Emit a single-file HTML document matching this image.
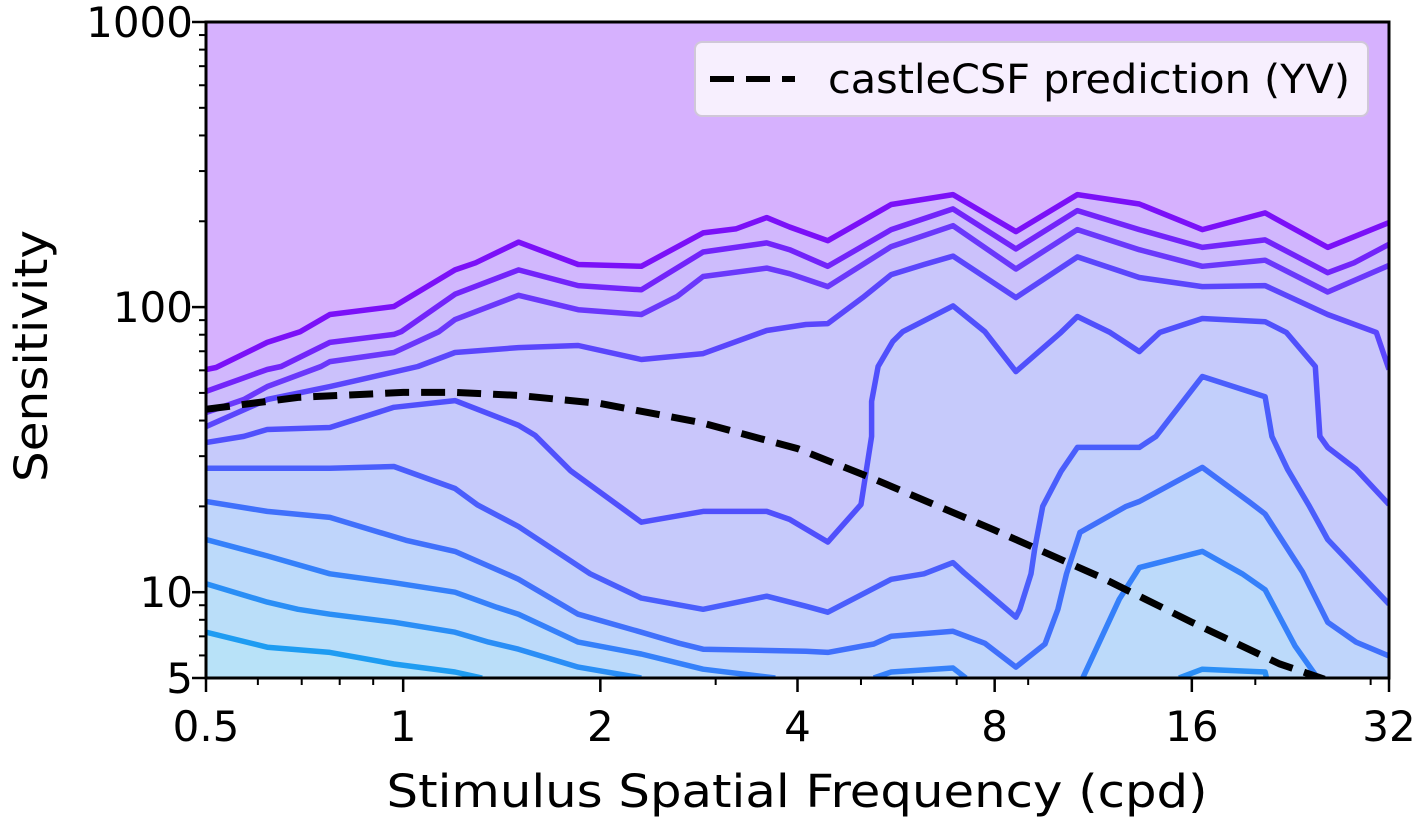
<!DOCTYPE html>
<html><head><meta charset="utf-8"><style>
html,body{margin:0;padding:0;background:#fff;}
svg{display:block;font-family:"DejaVu Sans","Liberation Sans",sans-serif;}
</style></head><body>
<svg id="chart" width="1422" height="821" viewBox="0 0 1422 821" xmlns="http://www.w3.org/2000/svg">
<defs><clipPath id="plotclip"><rect x="206" y="22" width="1183" height="656"/></clipPath></defs>
<g id="plot" clip-path="url(#plotclip)"></g>
<g id="axes"></g>
<g>
<rect x="695" y="42" width="673" height="74" rx="7" fill="#f7effe" stroke="#d0c8d8" stroke-width="2"/>
<line x1="710" y1="79" x2="795" y2="79" stroke="#000" stroke-width="6" stroke-dasharray="24 12"/>
<text x="828" y="93" font-size="40" textLength="522" lengthAdjust="spacingAndGlyphs" fill="#000">castleCSF prediction (YV)</text>
</g>
<text x="797" y="807" font-size="45" text-anchor="middle" textLength="821" lengthAdjust="spacingAndGlyphs" fill="#000">Stimulus Spatial Frequency (cpd)</text>
<text transform="translate(47,356) rotate(-90)" font-size="45" text-anchor="middle" textLength="252" lengthAdjust="spacingAndGlyphs" fill="#000">Sensitivity</text>
</svg>
<script>
const L1x=[0.5,0.518,0.62,0.696,0.773,0.968,1.2,1.29,1.5,1.85,2.31,2.87,3.22,3.59,3.89,4.45,5.56,6.91,8.62,10.7,13.3,16.6,20.7,25.8,32];
const L1y=[60.4,61.4,75.2,82,94.2,100.5,135,143,169,141,139,182,188,206,191,171,229,248,184,248,230,187,214,162,198];
const L2x=[0.5,0.62,0.651,0.773,0.968,0.993,1.2,1.5,1.85,2.31,2.87,3.59,3.89,4.45,5.56,6.91,8.62,10.7,13.3,16.6,20.7,25.8,28.3,32];
const L2y=[50.6,60.4,61.9,75.2,80.2,82,111,135,119,115,156,168,159,139,187,221,160,218,187,162,172,132,143,166];
const L3x=[0.5,0.571,0.62,0.749,0.773,0.968,1.134,1.2,1.5,1.85,2.31,2.62,2.87,3.59,3.89,4.45,5.56,6.91,8.62,10.7,13.3,16.6,20.7,25.8,32];
const L3y=[42.7,47.4,52.6,61.9,64.4,69.3,82,90.4,110,97.9,94.2,109,128,137,131,118,163,193,136,187,159,139,146,113,140];
const L4x=[0.5,0.62,0.773,1.053,1.2,1.5,1.85,2.31,2.87,3.59,4.12,4.45,5.03,5.56,6.24,6.91,8.62,10.7,13.3,16.6,20.7,25.8,30.6,32];
const L4y=[38.1,47.4,52.6,61.9,69.3,72.1,73.3,65.5,68.7,82.8,86.9,87.5,108,130,141,151,108,150,127,118,119,94.2,81.5,60.4];
const L5x=[0.5,0.571,0.62,0.773,0.968,1.2,1.5,1.59,1.8,2.31,2.87,3.59,3.89,4.45,5.0,5.19,5.19,5.31,5.59,5.79,6.91,7.73,8.62,10.1,10.7,12.0,13.3,14.3,16.6,20.7,22.3,24.7,25.1,25.8,28.5,32];
const L5y=[33.5,35.2,37.2,37.8,44.5,47,38.5,35.5,26.7,17.6,19.2,19.2,18,15,20.3,35.2,46.7,61.9,75.7,82,101,82,59.4,81.5,92.7,81.5,69.8,81.5,91.2,88.9,81.5,61.9,35.2,32.2,27,20.3];
const L6x=[0.5,0.773,0.968,1.2,1.3,1.5,1.93,2.31,2.87,3.59,4.12,4.45,5.56,6.24,6.91,7.18,8.62,8.74,9.09,9.21,9.47,10.1,10.7,13.3,14.1,16.6,20.7,21.2,22.4,24.2,25.8,32];
const L6y=[27.2,27.2,27.6,23.1,20.2,17,11.6,9.53,8.71,9.68,8.93,8.51,11.1,11.6,12.7,11.7,8.17,8.71,11.6,14.2,20,26.5,32.2,32.2,35.2,57.1,48.5,35.2,27,20,15.3,9.08];
const L7x=[0.5,0.62,0.773,1.01,1.2,1.45,1.5,1.85,2.31,2.64,2.87,4.12,4.45,5.23,5.56,6.91,7.73,8.62,9.55,9.99,10.3,10.8,12.7,13.3,16.6,19.6,20.7,23.6,25.8,28.5,32];
const L7y=[20.8,19.2,18.3,15.2,13.9,11.5,11.1,8.37,7.24,6.62,6.31,6.21,6.15,6.58,7.01,7.29,6.62,5.46,6.58,8.71,11.6,16.2,20,20.8,27.4,20.7,18.8,11.8,7.85,6.68,5.97];
const L8ax=[0.5,0.62,0.773,0.968,1.2,1.39,1.5,1.85,2.31,2.87,3.7];
const L8ay=[15.3,13.4,11.6,10.8,10,8.85,8.37,6.68,6.07,5.37,5];
const L8bx=[5.23,5.56,6.91,7.23];
const L8by=[5,5.25,5.42,5];
const L8cx=[10.9,12.4,13.3,16.6,19.1,20.7,23.0,24.9];
const L8cy=[5,9.45,12.2,13.9,11.6,10.2,6.47,5];
const L9ax=[0.5,0.62,0.691,0.773,0.968,1.2,1.35,1.5,1.85,2.31];
const L9ay=[10.7,9.23,8.71,8.37,7.85,7.24,6.68,6.31,5.46,5];
const L9bx=[15.3,16.6,20.7,20.8];
const L9by=[5,5.37,5.25,5];
const L10x=[0.5,0.62,0.773,0.968,1.2,1.32];
const L10y=[7.24,6.41,6.15,5.6,5.25,5];
const predX=[0.5,0.691,1.0,1.2,1.5,2.0,2.84,4.0,5.16,8.0,11.6,16,21.8,25.5];
const predY=[43.8,48.2,50.2,50.2,49.0,45.9,39.4,31.9,25.3,16.5,11.3,7.85,5.6,4.95];
const xMajor=[0.5,1,2,4,8,16,32];
const xMajorLabels=["0.5","1","2","4","8","16","32"];
const xMinor=[0.6,0.7,0.8,0.9,3,5,6,7,9,20,30];
const yMajor=[5,10,100,1000];
const yMajorLabels=["5","10","100","1000"];
const yMinor=[6,7,8,9,20,30,40,50,60,70,80,90,200,300,400,500,600,700,800,900];

const X0=206,X1=1389,Y0=22,Y1=678;
function xs(v){return X0+(Math.log2(v/0.5))/6*(X1-X0);}
function ys(v){return Y1-(Math.log10(v)-Math.log10(5))/(3-Math.log10(5))*(Y1-Y0);}
const NS="http://www.w3.org/2000/svg";
const plot=document.getElementById('plot'), axes=document.getElementById('axes');
function mk(tag,parent){const e=document.createElementNS(NS,tag);parent.appendChild(e);return e;}
function pts(xa,ya){return xa.map((v,i)=>xs(v).toFixed(1)+','+ys(ya[i]).toFixed(1)).join(' ');}

const bg=mk('rect',plot);
bg.setAttribute('x',X0);bg.setAttribute('y',Y0);bg.setAttribute('width',X1-X0);bg.setAttribute('height',Y1-Y0);bg.setAttribute('fill','#d6b1fe');



const levels=[
 {segs:[[L1x,L1y]],line:'#7b10f8',fill:'#d1b7fd'},
 {segs:[[L2x,L2y]],line:'#7224fa',fill:'#cdbcfc'},
 {segs:[[L3x,L3y]],line:'#6a38fb',fill:'#cbc1fb'},
 {segs:[[L4x,L4y]],line:'#5a46fc',fill:'#c9c6fb'},
 {segs:[[L5x,L5y]],line:'#5050fc',fill:'#c6cafb'},
 {segs:[[L6x,L6y]],line:'#4a5efc',fill:'#c2cffb'},
 {segs:[[L7x,L7y]],line:'#4070fb',fill:'#bfd5fb'},
 {segs:[[L8ax,L8ay],[L8bx,L8by],[L8cx,L8cy]],line:'#3580fa',fill:'#bcdafa'},
 {segs:[[L9ax,L9ay],[L9bx,L9by]],line:'#2a8ef6',fill:'#badef9'},
 {segs:[[L10x,L10y]],line:'#1e9cf2',fill:'#b8e2f8'}
];
levels.forEach((lv,k)=>{
  lv.segs.forEach(s=>{
    const xa=s[0],ya=s[1];
    const poly=mk('polygon',plot);
    poly.setAttribute('points',pts(xa,ya)+' '+xs(xa[xa.length-1]).toFixed(1)+','+(Y1+10)+' '+xs(xa[0]).toFixed(1)+','+(Y1+10));
    poly.setAttribute('fill',lv.fill);
    
    
  });
});
levels.forEach((lv,k)=>{
  lv.segs.forEach(s=>{
    const pl=mk('polyline',plot);
    pl.setAttribute('points',pts(s[0],s[1]));
    pl.setAttribute('fill','none');pl.setAttribute('stroke',lv.line);pl.setAttribute('stroke-width','5.5');pl.setAttribute('stroke-linejoin','round');
    
    
  });
});
const pred=mk('polyline',plot);
pred.setAttribute('points',pts(predX,predY));
pred.setAttribute('fill','none');pred.setAttribute('stroke','#000');pred.setAttribute('stroke-width','7');pred.setAttribute('stroke-dasharray','24 12');



const frame=mk('rect',axes);
frame.setAttribute('x',X0);frame.setAttribute('y',Y0);frame.setAttribute('width',X1-X0);frame.setAttribute('height',Y1-Y0);
frame.setAttribute('fill','none');frame.setAttribute('stroke','#000');frame.setAttribute('stroke-width','3');



xMajor.forEach((v,i)=>{
  const t=mk('line',axes);const x=xs(v);
  t.setAttribute('x1',x);t.setAttribute('x2',x);t.setAttribute('y1',Y1);t.setAttribute('y2',Y1+14);t.setAttribute('stroke','#000');t.setAttribute('stroke-width','2.5');
  
  
  const l=mk('text',axes);
  l.setAttribute('x',x);l.setAttribute('y',741);l.setAttribute('font-size','42');l.setAttribute('text-anchor','middle');
  l.textContent=xMajorLabels[i];
  
  
});
xMinor.forEach(v=>{
  const t=mk('line',axes);const x=xs(v);
  t.setAttribute('x1',x);t.setAttribute('x2',x);t.setAttribute('y1',Y1);t.setAttribute('y2',Y1+7);t.setAttribute('stroke','#000');t.setAttribute('stroke-width','2');
  
  
});
yMajor.forEach((v,i)=>{
  const t=mk('line',axes);const y=ys(v);
  t.setAttribute('x1',X0-14);t.setAttribute('x2',X0);t.setAttribute('y1',y);t.setAttribute('y2',y);t.setAttribute('stroke','#000');t.setAttribute('stroke-width','2.5');
  
  
  const l=mk('text',axes);
  l.setAttribute('x',193);l.setAttribute('y',y+15);l.setAttribute('font-size','42');l.setAttribute('text-anchor','end');
  l.textContent=yMajorLabels[i];
  
  
});
yMinor.forEach(v=>{
  const t=mk('line',axes);const y=ys(v);
  t.setAttribute('x1',X0-7);t.setAttribute('x2',X0);t.setAttribute('y1',y);t.setAttribute('y2',y);t.setAttribute('stroke','#000');t.setAttribute('stroke-width','2');
  
  
});
</script>
</body></html>
